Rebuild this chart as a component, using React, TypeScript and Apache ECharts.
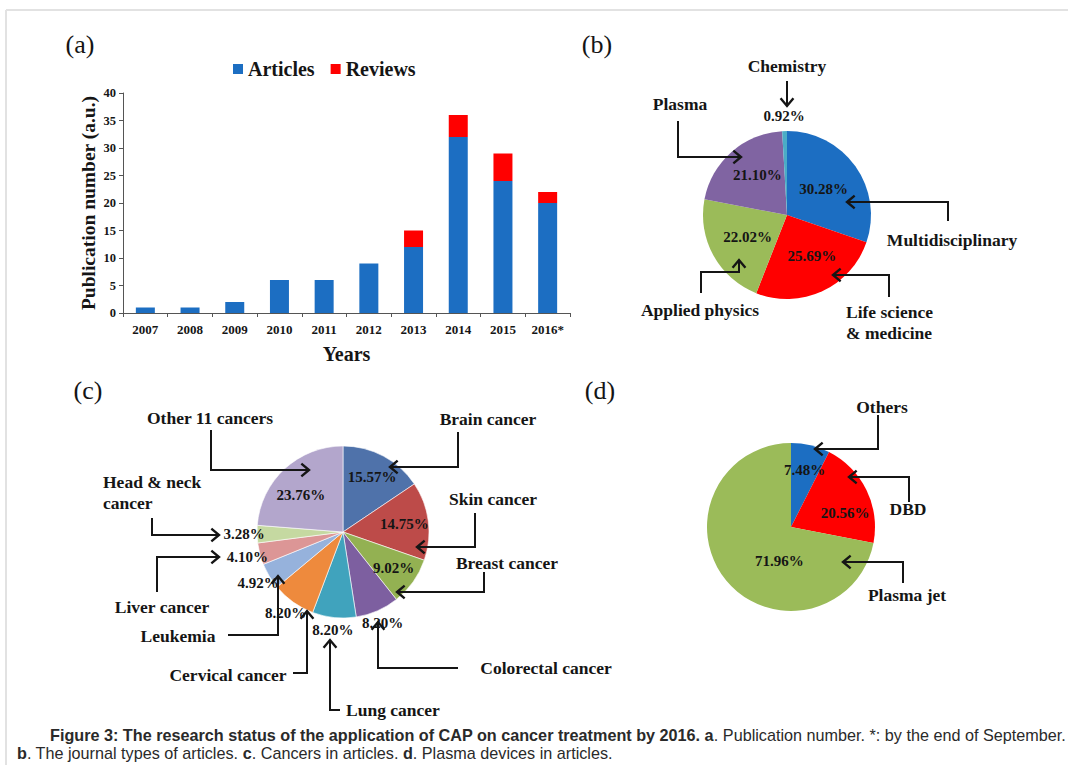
import React, { useEffect, useRef } from 'react';
import * as echarts from 'echarts';

// ---------- DATA ----------
const years = ['2007', '2008', '2009', '2010', '2011', '2012', '2013', '2014', '2015', '2016*'];
const articles = [1, 1, 2, 6, 6, 9, 12, 32, 24, 20];
const reviews = [0, 0, 0, 0, 0, 0, 3, 4, 5, 2];
const yMax = 40;
const yStep = 5;

const journalNames = ['Multidisciplinary', 'Life science & medicine', 'Applied physics', 'Plasma', 'Chemistry'];
const journalShares = [30.28, 25.69, 22.02, 21.1, 0.92];
const journalColors = ['#1c6ec2', '#ff0000', '#9bbb59', '#8064a2', '#4bacc6'];

const cancerNames = ['Brain cancer', 'Skin cancer', 'Breast cancer', 'Colorectal cancer', 'Lung cancer', 'Cervical cancer', 'Leukemia', 'Liver cancer', 'Head & neck cancer', 'Other 11 cancers'];
const cancerShares = [15.57, 14.75, 9.02, 8.2, 8.2, 8.2, 4.92, 4.1, 3.28, 23.76];
const cancerColors = ['#4f72aa', '#bd4b49', '#93b152', '#7d5fa0', '#40a3bd', '#ee8a3d', '#96b2dc', '#dc9696', '#c5d9a1', '#b3a6cc'];

const deviceNames = ['Others', 'DBD', 'Plasma jet'];
const deviceShares = [7.48, 20.56, 71.96];
const deviceColors = ['#1c6ec2', '#ff0000', '#9bbb59'];

// ---------- STYLE ----------
const SERIF = "'Liberation Serif', 'Times New Roman', serif";
const SANS = "'Liberation Sans', Arial, sans-serif";
const INK = '#151515';
const PCT_SIZE = 15;

const pct = (p: any) => Number(p.value).toFixed(2) + '%';
const pctUp = (p: any) => pct(p) + '\n';
const pctDown = (p: any) => '\n' + pct(p);

function pieBase(name: string, center: number[], radius: any) {
  return {
    type: 'pie',
    name,
    center,
    radius,
    startAngle: 90,
    clockwise: true,
    silent: true,
    avoidLabelOverlap: false,
    labelLayout: { hideOverlap: false },
    emphasis: { disabled: true },
    labelLine: { show: false },
  };
}

function mainPie(name: string, center: number[], r: number, names: string[], vals: number[], colors: string[], labelIdx: number[], labelExtra: any = {}) {
  return {
    ...pieBase(name, center, [0, r]),
    itemStyle: { borderColor: '#ffffff', borderWidth: 0 },
    label: { show: false, position: 'inside', formatter: pct, color: INK, fontFamily: SERIF, fontWeight: 'bold', fontSize: PCT_SIZE },
    data: vals.map((v, i) => ({
      value: v,
      name: names[i],
      itemStyle: { color: colors[i] },
      label: labelIdx.includes(i) ? { show: true, ...(labelExtra[i] || {}) } : { show: false },
    })),
  };
}

function labelRing(name: string, center: number[], r0: number, r1: number, names: string[], vals: number[], labelIdx: number[], labelExtra: any = {}) {
  return {
    ...pieBase(name, center, [r0, r1]),
    z: 5,
    itemStyle: { color: 'rgba(0,0,0,0)', borderWidth: 0 },
    label: { show: false, position: 'inside', formatter: pct, color: INK, fontFamily: SERIF, fontWeight: 'bold', fontSize: PCT_SIZE },
    data: vals.map((v, i) => ({
      value: v,
      name: names[i],
      label: { show: labelIdx.includes(i), ...(labelExtra[i] || {}) },
    })),
  };
}

// ---------- ANNOTATIONS ----------
function arrow(pts: number[][]) {
  const n = pts.length;
  const tip = pts[n - 1];
  const prev = pts[n - 2];
  const dx = tip[0] - prev[0];
  const dy = tip[1] - prev[1];
  const len = Math.hypot(dx, dy) || 1;
  const ux = dx / len, uy = dy / len;
  const L = 10, a = (40 * Math.PI) / 180;
  const rot = (x: number, y: number, t: number) => [x * Math.cos(t) - y * Math.sin(t), x * Math.sin(t) + y * Math.cos(t)];
  const r1 = rot(-ux, -uy, a), r2 = rot(-ux, -uy, -a);
  return [
    { type: 'polyline', z: 100, silent: true, shape: { points: pts }, style: { stroke: INK, lineWidth: 2, fill: 'none' } },
    { type: 'polyline', z: 100, silent: true, shape: { points: [[tip[0] + r1[0] * L, tip[1] + r1[1] * L], tip, [tip[0] + r2[0] * L, tip[1] + r2[1] * L]] }, style: { stroke: INK, lineWidth: 2.4, fill: 'none' } },
  ];
}

function label(text: string, x: number, y: number, align = 'center', size = 17.5) {
  return { type: 'text', z: 100, silent: true, x, y, style: { text, fill: INK, font: `bold ${size}px ${SERIF}`, align, verticalAlign: 'middle' } };
}

function panelTag(text: string, x: number, y: number) {
  return { type: 'text', z: 100, silent: true, x, y, style: { text, fill: INK, font: `26px ${SERIF}`, align: 'center', verticalAlign: 'middle' } };
}

const arrows = [
  // (b)
  [[787, 81], [787, 106]],
  [[678, 121], [678, 157], [741, 157]],
  [[948, 221], [948, 202], [847, 202]],
  [[889, 297], [889, 275], [833, 275]],
  [[701, 293], [701, 272], [739, 272], [739, 260]],
  // (c)
  [[211, 430], [211, 470], [309, 470]],
  [[458, 432], [458, 467], [390, 467]],
  [[152, 518], [152, 535], [219, 535]],
  [[157, 592], [157, 557], [219, 557]],
  [[228, 635], [278, 635], [278, 576]],
  [[293, 673], [307, 673], [307, 611]],
  [[340, 710], [330, 710], [330, 640]],
  [[458, 668], [378, 668], [378, 622]],
  [[475, 513], [475, 547], [417, 547]],
  [[484, 572], [484, 592], [397, 592]],
  // (d)
  [[878, 415], [878, 449], [815, 449]],
  [[909, 502], [909, 477], [849, 477]],
  [[903, 583], [903, 562], [843, 562]],
];

const texts = [
  panelTag('(a)', 80, 44),
  panelTag('(b)', 597, 44),
  panelTag('(c)', 88, 390),
  panelTag('(d)', 600, 390),
  // (b)
  label('Chemistry', 787, 66),
  label('Plasma', 680, 104),
  label('Multidisciplinary', 952, 240),
  label('Life science', 846, 312, 'left'),
  label('& medicine', 846, 333, 'left'),
  label('Applied physics', 700, 310),
  // (c)
  label('Other 11 cancers', 210, 418),
  label('Brain cancer', 488, 419),
  label('Head & neck', 103, 482, 'left'),
  label('cancer', 103, 503, 'left'),
  label('Skin cancer', 493, 499),
  label('Breast cancer', 507, 563),
  label('Liver cancer', 162, 607),
  label('Leukemia', 178, 636),
  label('Cervical cancer', 228, 675),
  label('Colorectal cancer', 546, 668),
  label('Lung cancer', 346, 710, 'left'),
  // (d)
  label('Others', 882, 407),
  label('DBD', 908, 509),
  label('Plasma jet', 907, 595),
];

const capRich = {
  b: { fontFamily: SANS, fontWeight: 'bold', fontSize: 16.2, fill: '#2a2a2a' },
  n: { fontFamily: SANS, fontSize: 16.2, fill: '#2a2a2a' },
};

const caption = [
  {
    type: 'text', z: 100, silent: true, x: 50, y: 735,
    style: {
      text: '{b|Figure 3: The research status of the application of CAP on cancer treatment by 2016. a}{n|. Publication number. *: by the end of September.}',
      fill: '#2a2a2a', verticalAlign: 'middle', align: 'left', rich: capRich,
    },
  },
  {
    type: 'text', z: 100, silent: true, x: 17, y: 753,
    style: {
      text: '{b|b}{n|. The journal types of articles. }{b|c}{n|. Cancers in articles. }{b|d}{n|. Plasma devices in articles.}',
      fill: '#2a2a2a', verticalAlign: 'middle', align: 'left', rich: capRich,
    },
  },
];

const frame = [
  { type: 'line', z: 100, silent: true, shape: { x1: 6, y1: 10, x2: 1068, y2: 10 }, style: { stroke: '#e2e2e2', lineWidth: 2 } },
  { type: 'line', z: 100, silent: true, shape: { x1: 6, y1: 10, x2: 6, y2: 765 }, style: { stroke: '#e2e2e2', lineWidth: 2 } },
];

export default function App() {
  const ref = useRef<HTMLDivElement>(null);
  useEffect(() => {
    if (!ref.current) return;
    const chart = echarts.init(ref.current, undefined, { renderer: 'svg' });
    const bCenter = [787, 215];
    const cCenter = [343, 532];
    const dCenter = [791, 527];
    const option: any = {
      animation: false,
      backgroundColor: '#ffffff',
      legend: {
        data: ['Articles', 'Reviews'],
        left: 228,
        top: 54,
        icon: 'rect',
        itemWidth: 10,
        itemHeight: 10,
        itemGap: 16,
        selectedMode: false,
        textStyle: { fontFamily: SERIF, fontWeight: 'bold', fontSize: 20, color: INK },
      },
      grid: { left: 123, top: 93, width: 447, height: 220, containLabel: false },
      xAxis: {
        type: 'category',
        data: years,
        name: 'Years',
        nameLocation: 'middle',
        nameGap: 31,
        nameTextStyle: { fontFamily: SERIF, fontWeight: 'bold', fontSize: 20, color: INK },
        axisLine: { lineStyle: { color: '#555', width: 1 } },
        axisTick: { show: true, inside: false, length: 4, lineStyle: { color: '#555' } },
        axisLabel: { fontFamily: SERIF, fontWeight: 'bold', fontSize: 13, color: INK, margin: 10, interval: 0 },
      },
      yAxis: {
        type: 'value',
        min: 0,
        max: yMax,
        interval: yStep,
        name: 'Publication number (a.u.)',
        nameLocation: 'middle',
        nameGap: 25,
        nameRotate: 90,
        nameTextStyle: { fontFamily: SERIF, fontWeight: 'bold', fontSize: 19.5, color: INK },
        axisLine: { show: true, lineStyle: { color: '#555', width: 1 } },
        axisTick: { show: true, inside: false, length: 4, lineStyle: { color: '#555' } },
        axisLabel: { fontFamily: SERIF, fontWeight: 'bold', fontSize: 12.5, color: INK, margin: 7 },
        splitLine: { show: false },
      },
      series: [
        { type: 'bar', name: 'Articles', stack: 'pub', data: articles, barWidth: 19, itemStyle: { color: '#1c6ec2' }, silent: true },
        { type: 'bar', name: 'Reviews', stack: 'pub', data: reviews, barWidth: 19, itemStyle: { color: '#ff0000' }, silent: true },
        // (b)
        mainPie('Journal types', bCenter, 84, journalNames, journalShares, journalColors, [0, 1, 2, 3], {
          1: { padding: [0, 0, 0, 12] },
          3: { formatter: pctUp, lineHeight: 13 },
        }),
        labelRing('Journal labels', bCenter, 84, 108, journalNames, journalShares, [4]),
        // (c)
        { ...mainPie('Cancers', cCenter, 86, cancerNames, cancerShares, cancerColors, []), itemStyle: { borderColor: '#ffffff', borderWidth: 0.6 } },
        labelRing('Cancer inner labels', cCenter, 28, 90, cancerNames, cancerShares, [0, 1, 2, 9], {
          9: { formatter: pctDown, lineHeight: 18 },
        }),
        labelRing('Cancer edge labels', cCenter, 76, 116, cancerNames, cancerShares, [3, 4, 5, 6, 7, 8]),
        // (d)
        mainPie('Plasma devices', dCenter, 84, deviceNames, deviceShares, deviceColors, [2], {
          2: { padding: [0, 0, 0, 46], formatter: pctDown, lineHeight: 10 },
        }),
        labelRing('Device label others', dCenter, 28, 84, deviceNames, deviceShares, [0]),
        labelRing('Device label DBD', dCenter, 0, 59, deviceNames, deviceShares, [1], {
          1: { padding: [0, 0, 0, 50] },
        }),
      ],
      graphic: {
        elements: [
          ...frame,
          ...arrows.flatMap((p) => arrow(p)),
          ...texts,
          ...caption,
        ],
      },
    };
    chart.setOption(option);
    return () => chart.dispose();
  }, []);
  return <div ref={ref} style={{ position: 'absolute', left: 0, top: 0, width: 1068, height: 765 }} />;
}
